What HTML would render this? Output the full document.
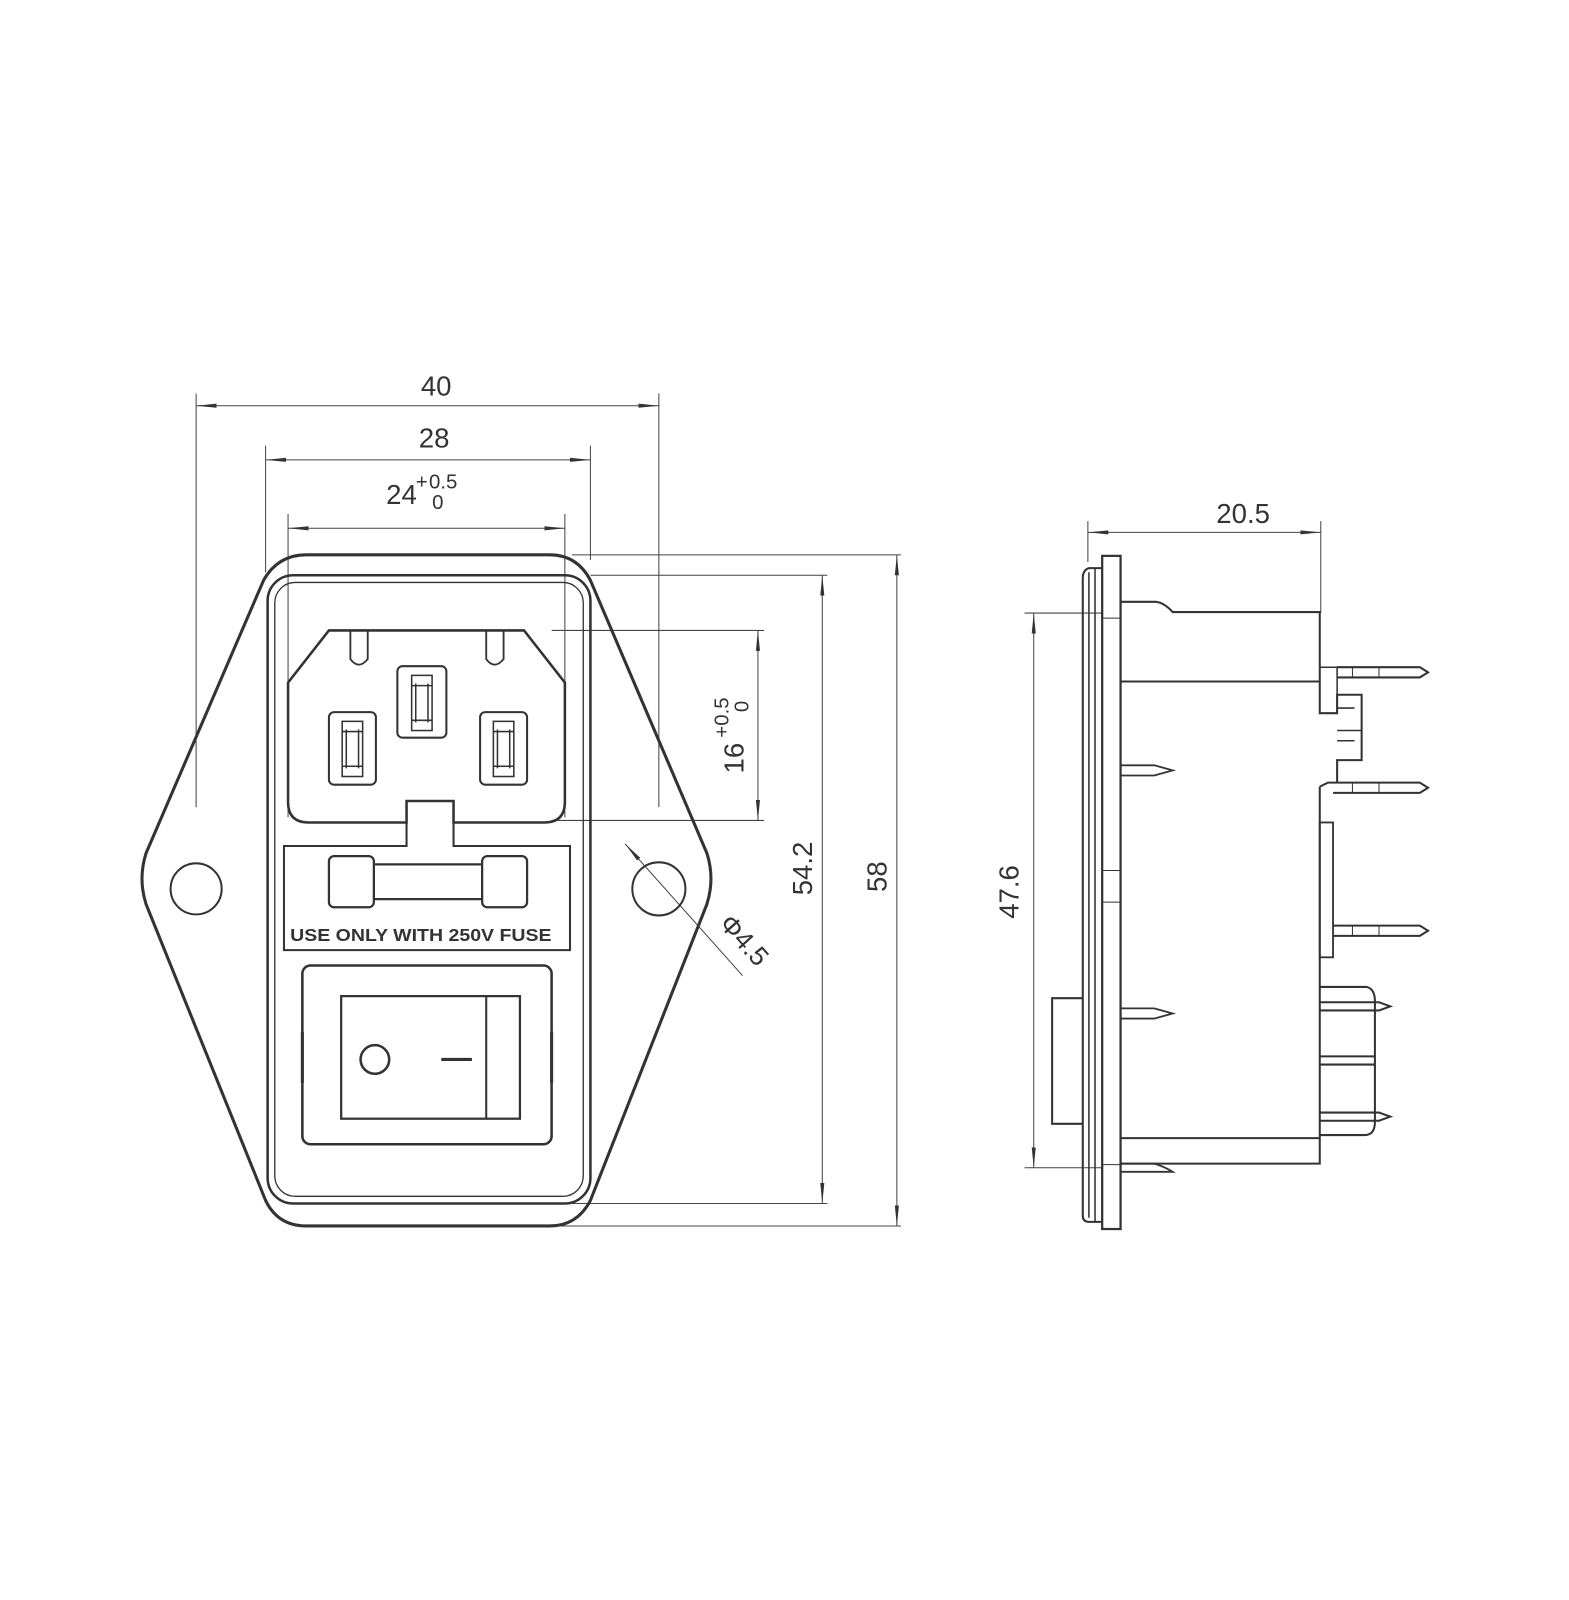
<!DOCTYPE html>
<html><head><meta charset="utf-8"><style>
html,body{margin:0;padding:0;background:#fff;}
svg{display:block;}
text{font-family:"Liberation Sans",sans-serif;fill:#333;}
</style></head><body>
<svg width="1569" height="1600" viewBox="0 0 1536 1566" xmlns="http://www.w3.org/2000/svg">
<defs>
<marker id="a" viewBox="0 0 20 6" refX="20" refY="3" markerWidth="20" markerHeight="6" markerUnits="userSpaceOnUse" orient="auto"><path d="M0,1 L20,3 L0,5 Z" fill="#333"/></marker>
<marker id="b" viewBox="0 0 20 6" refX="0" refY="3" markerWidth="20" markerHeight="6" markerUnits="userSpaceOnUse" orient="auto"><path d="M20,1 L0,3 L20,5 Z" fill="#333"/></marker>
</defs>
<g stroke="#444" stroke-width="1" fill="none">
<!-- dims front -->
<line x1="192" y1="385" x2="192" y2="790"/>
<line x1="645" y1="385" x2="645" y2="790"/>
<line x1="192" y1="397" x2="645" y2="397" marker-start="url(#b)" marker-end="url(#a)"/>
<line x1="260" y1="436" x2="260" y2="560"/>
<line x1="578" y1="436" x2="578" y2="548"/>
<line x1="260" y1="450" x2="578" y2="450" marker-start="url(#b)" marker-end="url(#a)"/>
<line x1="282" y1="503" x2="282" y2="800"/>
<line x1="553" y1="503" x2="553" y2="800"/>
<line x1="282" y1="517" x2="553" y2="517" marker-start="url(#b)" marker-end="url(#a)"/>
<line x1="560" y1="543" x2="882" y2="543"/>
<line x1="578" y1="563" x2="810" y2="563"/>
<line x1="540" y1="617" x2="748" y2="617"/>
<line x1="540" y1="803" x2="748" y2="803"/>
<line x1="560" y1="1178" x2="810" y2="1178"/>
<line x1="545" y1="1200" x2="882" y2="1200"/>
<line x1="742" y1="617" x2="742" y2="803" marker-start="url(#b)" marker-end="url(#a)"/>
<line x1="805" y1="563" x2="805" y2="1178" marker-start="url(#b)" marker-end="url(#a)"/>
<line x1="878" y1="543" x2="878" y2="1200" marker-start="url(#b)" marker-end="url(#a)"/>
<line x1="727" y1="955" x2="612" y2="826" marker-end="url(#a)"/>
<!-- dims side -->
<line x1="1065" y1="510" x2="1065" y2="550"/>
<line x1="1293" y1="510" x2="1293" y2="600"/>
<line x1="1065" y1="521" x2="1293" y2="521" marker-start="url(#b)" marker-end="url(#a)"/>
<line x1="1003" y1="600" x2="1080" y2="600"/>
<line x1="1003" y1="1143" x2="1080" y2="1143"/>
<line x1="1012" y1="600" x2="1012" y2="1143" marker-start="url(#b)" marker-end="url(#a)"/>
</g>
<g font-size="27">
<text x="427" y="387" text-anchor="middle">40</text>
<text x="425" y="438" text-anchor="middle">28</text>
<text x="378" y="493">24</text>
<text x="407" y="478" font-size="20">+</text>
<text x="420" y="478" font-size="20">0.5</text>
<text x="423" y="498" font-size="20">0</text>
<text x="1217" y="512" text-anchor="middle">20.5</text>
<text transform="translate(728,757) rotate(-90)">16</text>
<text transform="translate(713,722) rotate(-90)" font-size="20">+0.5</text>
<text transform="translate(733,697) rotate(-90)" font-size="20">0</text>
<text transform="translate(795,850) rotate(-90)" text-anchor="middle">54.2</text>
<text transform="translate(868,858) rotate(-90)" text-anchor="middle">58</text>
<text transform="translate(997,873) rotate(-90)" text-anchor="middle">47.6</text>
<text transform="translate(703,905) rotate(48)" font-size="26">Φ4.5</text>
</g>
<g stroke="#333" fill="none">
<!-- plate -->
<path stroke-width="3" d="M300,543 L538,543 Q565,543 578,568 L692,835 Q700,860 692,885 L578,1175 Q565,1200 538,1200 L300,1200 Q272,1200 260,1175 L143,885 Q135,860 143,835 L258,568 Q272,543 300,543 Z"/>
<rect x="262" y="563" width="316" height="615" rx="25" stroke-width="2.5"/>
<rect x="269" y="570" width="302" height="601" rx="20" stroke-width="1.3"/>
<circle cx="192" cy="870" r="25" stroke-width="2"/>
<circle cx="645" cy="870" r="26" stroke-width="2"/>
<!-- socket -->
<path stroke-width="2.5" d="M322,617 L513,617 L553,668 L553,785 Q553,805 533,805 L444,805 L444,784 L398,784 L398,805 L302,805 Q282,805 282,785 L282,668 Z"/>
<path stroke-width="1.8" d="M343,617 L343,645 Q351,656 360,645 L360,617 M476,617 L476,645 Q484,656 493,645 L493,617"/>
<rect x="322" y="697" width="46" height="71" rx="5" stroke-width="2"/>
<rect x="389" y="652" width="48" height="70" rx="5" stroke-width="2"/>
<rect x="470" y="697" width="46" height="71" rx="5" stroke-width="2"/>
<g stroke-width="1.5">
<rect x="335" y="706" width="20" height="54"/><line x1="339" y1="714" x2="339" y2="752"/><line x1="351" y1="714" x2="351" y2="752"/><line x1="335" y1="716" x2="355" y2="716"/><line x1="335" y1="750" x2="355" y2="750"/>
<rect x="403" y="661" width="20" height="54"/><line x1="407" y1="669" x2="407" y2="707"/><line x1="419" y1="669" x2="419" y2="707"/><line x1="403" y1="671" x2="423" y2="671"/><line x1="403" y1="705" x2="423" y2="705"/>
<rect x="483" y="706" width="20" height="54"/><line x1="487" y1="714" x2="487" y2="752"/><line x1="499" y1="714" x2="499" y2="752"/><line x1="483" y1="716" x2="503" y2="716"/><line x1="483" y1="750" x2="503" y2="750"/>
</g>
<!-- fuse panel -->
<path stroke-width="2" d="M398,805 L398,828 L278,828 L278,930 L558,930 L558,828 L444,828 L444,805"/>
<rect x="322" y="838" width="44" height="50" rx="5" stroke-width="2.2"/>
<rect x="472" y="838" width="44" height="50" rx="5" stroke-width="2.2"/>
<path stroke-width="2.2" d="M366,846 L472,846 M366,880 L472,880"/>
<!-- switch -->
<rect x="296" y="945" width="244" height="175" rx="8" stroke-width="2.5"/>
<path stroke-width="3" d="M296,1010 L296,1060 M540,1010 L540,1060"/>
<rect x="334" y="975" width="175" height="120" stroke-width="2.2"/>
<line x1="476" y1="975" x2="476" y2="1095" stroke-width="2"/>
<circle cx="367" cy="1037" r="14" stroke-width="2.5"/>
<line x1="432" y1="1037" x2="462" y2="1037" stroke-width="3"/>
<!-- side view -->
<rect x="1079" y="544" width="18" height="659" stroke-width="2.2"/>
<path stroke-width="2" d="M1079,556 L1066,556 Q1060,558 1060,566 L1060,1190 Q1060,1196 1066,1196 L1079,1196"/>
<path stroke-width="1.5" d="M1066,560 L1066,1192 M1072,556 L1072,1196"/>
<path stroke-width="1" d="M1079,605 L1097,605 M1079,1140 L1097,1140 M1079,852 L1097,852 M1079,883 L1097,883"/>
<path stroke-width="2" d="M1097,589 L1132,589 Q1140,590 1148,599 L1292,599 L1292,653 M1097,667 L1292,667"/>
<path stroke-width="2" d="M1292,653 L1292,698 L1309,698 L1309,680 L1333,680 L1333,744 L1309,744 L1309,766"/>
<path stroke-width="1.5" d="M1292,653 L1309,653 L1309,698 M1309,693 L1326,693 M1309,715 L1333,715 M1309,725 L1326,725"/>
<path stroke-width="2" d="M1309,653 L1390,653 L1398,658 L1390,663 L1309,663 M1309,766 L1390,766 L1398,771 L1390,776 L1305,776 M1305,906 L1390,906 L1398,911 L1390,916 L1305,916"/>
<path stroke-width="1" d="M1324,653 L1324,663 M1350,653 L1350,663 M1324,766 L1324,776 M1350,766 L1350,776 M1324,906 L1324,916 M1350,906 L1350,916"/>
<path stroke-width="2" d="M1292,770 L1292,1139 L1097,1139 M1097,1114 L1292,1114 M1292,770 L1300,766 L1309,766"/>
<rect x="1292" y="805" width="13" height="132" stroke-width="1.8"/>
<path stroke-width="2" d="M1292,966 L1338,966 Q1346,968 1346,980 L1346,1098 Q1346,1111 1336,1111 L1292,1111"/>
<path stroke-width="2" d="M1292,981 L1350,981 L1361,985 L1350,989 L1292,989 M1292,1089 L1350,1089 L1361,1093 L1350,1097 L1292,1097 M1292,1034 L1346,1034 M1292,1042 L1346,1042"/>
<path stroke-width="1.8" d="M1097,749 L1130,749 L1148,754 L1130,759 L1097,759 M1097,987 L1130,987 L1148,992 L1130,997 L1097,997 M1097,1139 L1130,1139 Q1140,1142 1148,1147 L1097,1147"/>
<path stroke-width="2" d="M1060,977 L1030,977 L1030,1100 L1060,1100"/>
</g>
<text x="412" y="921" text-anchor="middle" font-size="17" font-weight="bold" textLength="256" lengthAdjust="spacingAndGlyphs" style="font-family:'Liberation Sans Narrow','Liberation Sans',sans-serif">USE ONLY WITH 250V FUSE</text>
</svg>
</body></html>
